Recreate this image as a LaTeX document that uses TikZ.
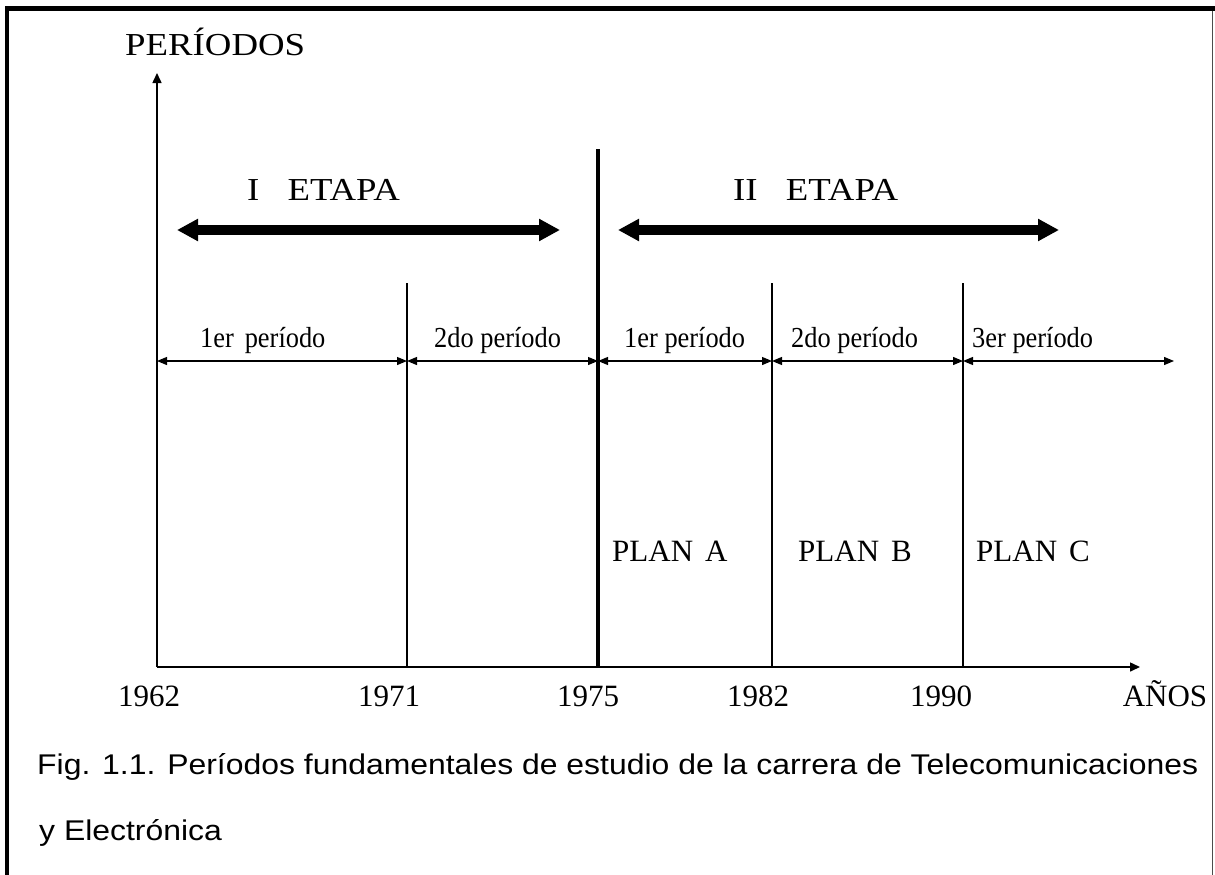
\documentclass[tikz,border=0pt]{standalone}
\usepackage{graphicx}
\usepackage{fontspec}
\setmainfont{Liberation Serif}
\newfontfamily\capfont{Liberation Sans}
\usetikzlibrary{arrows.meta}
\newcommand{\xsc}[2]{\scalebox{#1}[1]{#2}}
\begin{document}
\begin{tikzpicture}[x=1pt,y=-1pt,
  axis/.style={line width=1.5pt,-{Triangle[length=10pt,width=9pt]}},
  divline/.style={line width=1.5pt},
  mainline/.style={line width=4.5pt},
  dim/.style={line width=1.2pt,{Triangle[length=10pt,width=8pt]}-{Triangle[length=10pt,width=8pt]}},
  stage/.style={line width=10pt,{Triangle[length=21pt,width=21pt]}-{Triangle[length=21pt,width=21pt]}},
  big/.style={font=\fontsize{32}{38}\selectfont, inner sep=0pt, anchor=base west},
  per/.style={font=\fontsize{29}{34}\selectfont, inner sep=0pt, anchor=base west},
  year/.style={font=\fontsize{31}{37}\selectfont, inner sep=0pt, anchor=base},
  plan/.style={font=\fontsize{31}{37}\selectfont, inner sep=0pt, anchor=base west},
  captext/.style={font=\capfont\fontsize{28.5}{34}\selectfont, inner sep=0pt, anchor=base west},
  frameline/.style={line width=4.5pt},
  frameright/.style={line width=1pt, black!70}
]
\useasboundingbox (0,0) rectangle (1215,875);
% frame
\coordinate (fbl) at (7,875);
\coordinate (ftl) at (7,8.5);
\coordinate (ftr) at (1215,8.5);
\coordinate (frt) at (1212.5,11);
\coordinate (frb) at (1212.5,875);
\draw[frameline] (fbl) -- (ftl) -- (ftr);
\draw[frameright] (frt) -- (frb);
% axes
\coordinate (O) at (157,667);
\coordinate (ytop) at (157,73);
\coordinate (xend) at (1140,667);
\draw[axis] (O) -- (ytop);
\draw[axis] (O) -- (xend);
% dividers
\coordinate (t71) at (407,283); \coordinate (b71) at (407,667);
\coordinate (t75) at (598,149); \coordinate (b75) at (598,667);
\coordinate (t82) at (772,283); \coordinate (b82) at (772,667);
\coordinate (t90) at (963,283); \coordinate (b90) at (963,667);
\draw[divline] (t71) -- (b71);
\draw[mainline] (t75) -- (b75);
\draw[divline] (t82) -- (b82);
\draw[divline] (t90) -- (b90);
% dimension arrows
\coordinate (d62) at (157,361);
\coordinate (d71) at (407,361);
\coordinate (d75) at (598,361);
\coordinate (d82) at (772,361);
\coordinate (d90) at (963,361);
\coordinate (dend) at (1174,361);
\draw[dim] (d62) -- (d71);
\draw[dim] (d71) -- (d75);
\draw[dim] (d75) -- (d82);
\draw[dim] (d82) -- (d90);
\draw[dim] (d90) -- (dend);
% stage arrows
\coordinate (s1a) at (177,230); \coordinate (s1b) at (560,230);
\coordinate (s2a) at (618,230); \coordinate (s2b) at (1059,230);
\draw[stage] (s1a) -- (s1b);
\draw[stage] (s2a) -- (s2b);
% texts
\node[big] (periodos) at (125,56) {\xsc{1.15}{PERÍODOS}};
\node[big] (etapa1) at (247,200) {\xsc{1.15}{I\hspace{24.5pt}ETAPA}};
\node[big] (etapa2) at (733,200) {\xsc{1.15}{II\hspace{24.5pt}ETAPA}};
\node[per] (p1) at (200,347) {\xsc{0.91}{1er\hspace{12pt}período}};
\node[per] (p2) at (434,347) {\xsc{0.91}{2do período}};
\node[per] (p3) at (624,347) {\xsc{0.91}{1er período}};
\node[per] (p4) at (791,347) {\xsc{0.91}{2do período}};
\node[per] (p5) at (972,347) {\xsc{0.91}{3er período}};
\node[plan] (planA) at (612,561) {PLAN\hspace{12pt}A};
\node[plan] (planB) at (798,561) {PLAN\hspace{12pt}B};
\node[plan] (planC) at (976,561) {PLAN\hspace{12pt}C};
\node[year] (y62) at (149,706) {1962};
\node[year] (y71) at (389,706) {1971};
\node[year] (y75) at (588,706) {1975};
\node[year] (y82) at (758,706) {1982};
\node[year] (y90) at (941,706) {1990};
\node[year] (anos) at (1165,706) {AÑOS};
\node[captext] (cap1) at (37,774) {\xsc{1.12}{Fig. 1.1. Períodos fundamentales de estudio de la carrera de Telecomunicaciones}};
\node[captext] (cap2) at (39,840) {\xsc{1.12}{y Electrónica}};
\end{tikzpicture}
\end{document}
